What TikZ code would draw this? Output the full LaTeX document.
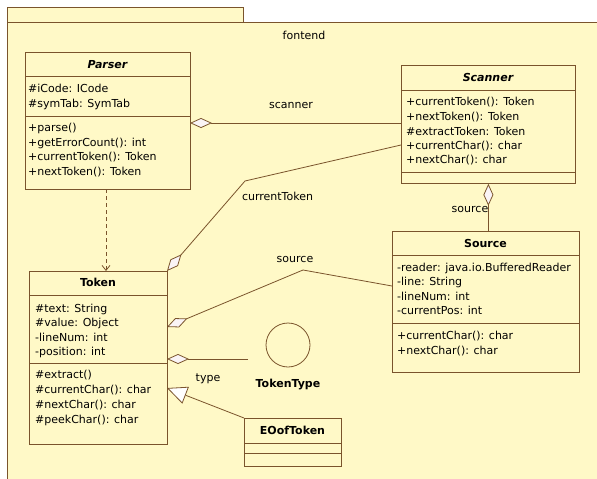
\documentclass[tikz,border=0pt]{standalone}
\usepackage{fontspec}
\setmainfont{DejaVu Sans}
\usetikzlibrary{arrows.meta}
\definecolor{pkgfill}{RGB}{255,249,199}
\definecolor{edge}{RGB}{122,84,44}
\definecolor{dfill}{RGB}{250,244,246}
\newcommand{\umlfont}{\fontsize{11}{13}\selectfont}

\begin{document}
\begin{tikzpicture}[x=1pt,y=-1pt,
  pkg/.style={draw=edge, line width=0.8pt, fill=pkgfill, inner sep=0pt, anchor=north west},
  box/.style={draw=edge, line width=0.8pt, fill=pkgfill, inner sep=0pt, anchor=north west},
  sep/.style={draw=edge, line width=0.8pt},
  txt/.style={font=\umlfont, inner sep=0pt, anchor=base west, text=black},
  ttl/.style={font=\umlfont\bfseries, inner sep=0pt, anchor=base, text=black},
  lbl/.style={font=\umlfont, inner sep=0pt, anchor=base, text=black},
  conn/.style={draw=edge, line width=0.8pt},
  agg/.tip={Diamond[length=22pt,width=10pt,fill=dfill]},
  gen/.tip={Triangle[length=20pt,width=18pt,fill=white]},
  dep/.style={draw=edge, line width=0.8pt, dash pattern=on 4pt off 3pt},
]
\useasboundingbox (0,0) rectangle (597,479);
\fill[white] (0,0) rectangle (597,479);

% package "fontend": tab and body
\node[pkg, minimum width=236pt, minimum height=16pt] (tab) at (7,7) {};
\node[pkg, minimum width=600pt, minimum height=470pt] (pkgbody) at (7,22) {};
\node[lbl] (pkgname) at (304,39) {fontend};

% Parser
\node[box, minimum width=165pt, minimum height=137pt] (parser) at (25,52) {};
\draw[sep] (25,76) -- (190,76);
\draw[sep] (25,116) -- (190,116);
\node[ttl] (parserT) at (107.5,68) {\itshape Parser};
\node[txt] (pa1) at (28,92) {\#iCode: ICode};
\node[txt] (pa2) at (28,107) {\#symTab: SymTab};
\node[txt] (pm1) at (28,131) {+parse()};
\node[txt] (pm2) at (28,146) {+getErrorCount(): int};
\node[txt] (pm3) at (28,160) {+currentToken(): Token};
\node[txt] (pm4) at (28,175) {+nextToken(): Token};

% Scanner
\node[box, minimum width=174pt, minimum height=118pt] (scanner) at (401,65) {};
\draw[sep] (401,90) -- (575,90);
\draw[sep] (401,172) -- (575,172);
\node[ttl] (scannerT) at (488,81) {\itshape Scanner};
\node[txt] (sm1) at (406,105) {+currentToken(): Token};
\node[txt] (sm2) at (406,120) {+nextToken(): Token};
\node[txt] (sm3) at (406,135) {\#extractToken: Token};
\node[txt] (sm4) at (406,149) {+currentChar(): char};
\node[txt] (sm5) at (406,163) {+nextChar(): char};

% Token
\node[box, minimum width=138pt, minimum height=173pt] (token) at (29,271) {};
\draw[sep] (29,295) -- (167,295);
\draw[sep] (29,363) -- (167,363);
\node[ttl] (tokenT) at (98,286) {Token};
\node[txt] (ta1) at (35,312) {\#text: String};
\node[txt] (ta2) at (35,326) {\#value: Object};
\node[txt] (ta3) at (35,341) {-lineNum: int};
\node[txt] (ta4) at (35,355) {-position: int};
\node[txt] (tm1) at (35,378) {\#extract()};
\node[txt] (tm2) at (35,393) {\#currentChar(): char};
\node[txt] (tm3) at (35,408) {\#nextChar(): char};
\node[txt] (tm4) at (35,423) {\#peekChar(): char};

% Source
\node[box, minimum width=187pt, minimum height=141pt] (source) at (392,231) {};
\draw[sep] (392,255) -- (579,255);
\draw[sep] (392,323) -- (579,323);
\node[ttl] (sourceT) at (485.5,247) {Source};
\node[txt] (sa1) at (397,271) {-reader: java.io.BufferedReader};
\node[txt] (sa2) at (397,285) {-line: String};
\node[txt] (sa3) at (397,300) {-lineNum: int};
\node[txt] (sa4) at (397,314) {-currentPos: int};
\node[txt] (sm6) at (397,339) {+currentChar(): char};
\node[txt] (sm7) at (397,354) {+nextChar(): char};

% TokenType (enumeration icon)
\node[draw=edge, line width=0.8pt, circle, minimum size=44pt, inner sep=0pt] (tokentype) at (288,345) {};
\node[ttl] (tokentypeT) at (288,387) {TokenType};

% EOofToken
\node[box, minimum width=97pt, minimum height=48pt] (eoof) at (244,418) {};
\draw[sep] (244,443) -- (341,443);
\draw[sep] (244,453) -- (341,453);
\node[ttl] (eoofT) at (292.5,434) {EOofToken};

% connector end points
\coordinate (pScan) at (190,123);
\coordinate (sScan) at (401,123);
\coordinate (sCur) at (401,145);
\coordinate (bCur) at (245,181);
\coordinate (tCur) at (167,271);
\coordinate (sSrc) at (392,286);
\coordinate (bSrc) at (303,270);
\coordinate (tSrc) at (167,327);
\coordinate (typeEnd) at (248,359);
\coordinate (tType) at (167,359);
\coordinate (tGen) at (167,388);
\coordinate (pDep) at (106,189);
\coordinate (tDep) at (106,271);

% associations
\draw[conn, agg-] (pScan) -- (sScan);
\draw[conn, -agg] (sCur) -- (bCur) -- (tCur);
\draw[conn, -agg] (sSrc) -- (bSrc) -- (tSrc);
\draw[conn, -agg] (typeEnd) -- (tType);
\draw[conn, agg-] (scanner.south) -- (scanner.south |- source.north);
\draw[conn, -gen] (eoof.north west) -- (tGen);
\draw[dep, -{Straight Barb[length=5pt,width=8pt]}] (pDep) -- (tDep);

% role names
\node[lbl] (lScan) at (291,108) {scanner};
\node[lbl] (lCur) at (277.5,200) {currentToken};
\node[lbl] (lSrc1) at (295,262) {source};
\node[lbl] (lSrc2) at (470,212) {source};
\node[lbl] (lType) at (208,381) {type};
\end{tikzpicture}
\end{document}
